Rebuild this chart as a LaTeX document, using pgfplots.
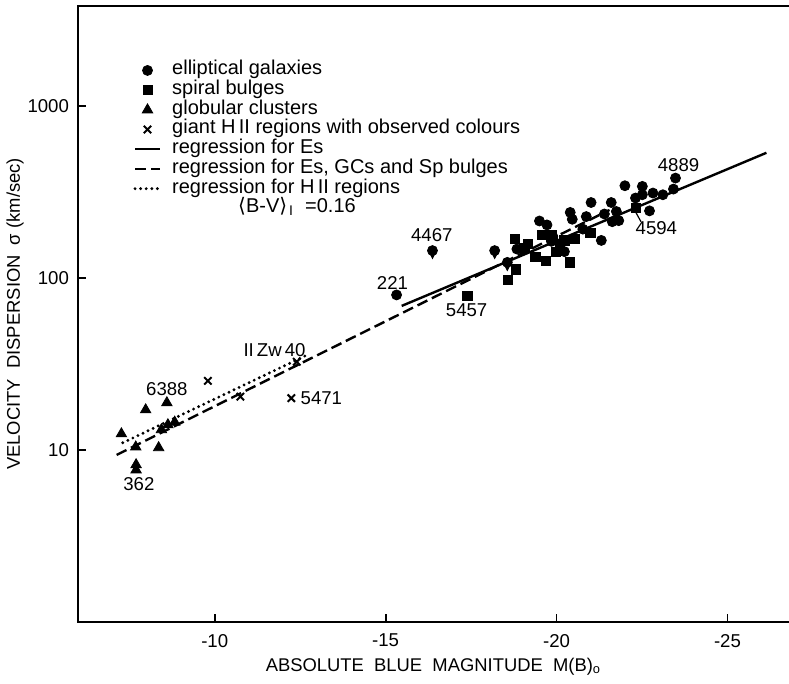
\documentclass[border=0pt]{standalone}
\usepackage{fontspec}
\setmainfont{Liberation Sans}
\newfontfamily\dejavu{DejaVu Sans}
\usepackage{pgfplots}
\pgfplotsset{compat=1.18}
\usetikzlibrary{arrows.meta}
\begin{document}
\begin{tikzpicture}
\begin{axis}[
  scale only axis,
  width=355.5pt, height=308pt,
  x dir=reverse,
  xmin=-26.8, xmax=-6,
  ymode=log, ymin=1, ymax=3800,
  xtick={-10,-15,-20,-25},
  xticklabels={-10,-15,-20,-25},
  ytick={10,100,1000},
  yticklabels={10,100,1000},
  yminorticks=false,
  xtick pos=bottom, ytick pos=left,
  tick align=inside,
  major tick length=4pt,
  tick style={black, line width=0.9pt},
  axis line style={draw=none},
  tick label style={font=\fontsize{9.3}{10}\selectfont},
  xticklabel style={yshift=-2.5pt},
  yticklabel style={xshift=-1pt},
  xlabel={ABSOLUTE\ \ BLUE\ \ MAGNITUDE\ \ M(B)\textsubscript{o}},
  ylabel={VELOCITY\ \ DISPERSION\ \ σ\ (km/sec)},
  every axis x label/.style={at={(axis description cs:0.5,-0.073)}, anchor=center, font=\fontsize{9.2}{10}\selectfont},
  every axis y label/.style={at={(axis description cs:-0.0886,0.5)}, anchor=center, rotate=90, font=\fontsize{9.2}{10}\selectfont},
  legend style={at={(axis description cs:0.0774,0.912)}, anchor=north west, draw=none, fill=none,
    font=\fontsize{10}{10}\selectfont, inner sep=0pt, row sep=0pt,
    nodes={inner sep=0pt, text height=7.1pt, text depth=2.75pt}},
  legend cell align=left,
  legend image code/.code={\draw[mark repeat=2, mark phase=2, #1] plot coordinates {(0pt,0pt) (6.25pt,0pt) (12.5pt,0pt)}; \path (17.8pt,0pt);},
]
% elliptical galaxies
\addplot[only marks, mark=*, mark size=2.5pt, black] coordinates {
(-15.32,79.6) (-18.84,147) (-19.50,214) (-19.72,203) (-20.46,219) (-20.23,142)
(-21.31,165) (-20.77,192) (-23.48,380) (-23.42,328) (-23.11,304) (-22.82,311)
(-22.51,340) (-22.51,304) (-22.31,291) (-22.00,343) (-22.72,245) (-21.60,274)
(-21.75,243) (-21.40,235) (-21.01,274) (-21.63,212) (-21.82,215) (-20.87,227)
(-20.40,240) (-19.89,174) (-19.85,163)
};
\addlegendentry{elliptical galaxies}
% spiral bulges
\addplot[only marks, mark=square*, mark size=2.3pt, black] coordinates {
(-17.39,78.9) (-18.58,97.3) (-18.82,112) (-18.77,168) (-19.16,158) (-19.06,149)
(-19.57,178) (-19.85,178) (-19.89,166) (-20.09,156) (-19.99,142) (-20.23,165)
(-20.53,168) (-20.99,182) (-19.38,132) (-19.70,126) (-20.40,123) (-22.31,254)
};
\addlegendentry{spiral bulges}
% globular clusters
\addplot[only marks, mark=triangle*, mark size=3pt, black] coordinates {
(-7.27,12.4) (-7.98,17.1) (-8.60,18.8) (-7.69,10.4) (-8.36,10.3) (-7.70,8.2)
(-7.70,7.65) (-8.44,13.1) (-8.63,14.0) (-8.83,14.5)
};
\addlegendentry{globular clusters}
% giant HII regions
\addplot[only marks, mark=x, mark size=2.6pt, black, line width=1pt] coordinates {
(-9.80,25.2) (-10.75,20.4) (-12.24,20.0) (-12.40,32.5)
};
\addlegendentry{giant H\,II regions with observed colours}
\addplot[black, line width=1.2pt] coordinates {(-15.47,68.7) (-26.14,533)};
\addlegendentry{regression for Es}
\addplot[black, line width=1.2pt, dash pattern=on 5.5pt off 2.5pt] coordinates {(-7.13,9.35) (-21.55,248)};
\addlegendentry{regression for Es, GCs and Sp bulges}
\addplot[black, line width=1.6pt, line cap=round, dash pattern=on 0pt off 2.8pt] coordinates {(-7.31,11.0) (-12.66,35.3)};
\addlegendentry{regression for H\,II regions}
\addlegendimage{empty legend}
\addlegendentry{\hspace{33pt}{\dejavu ⟨}B-V{\dejavu ⟩}\kern1pt\textsubscript{I}\ \ =0.16}
% upper limits with arrows
\addplot[only marks, mark=*, mark size=2.5pt, black, forget plot,
  error bars/.cd, y dir=minus, y explicit, error mark=none,
  error bar style={line width=0.8pt, -{Stealth[length=3pt,width=3pt]}}]
  coordinates {(-16.37,144) -= (0,16) (-18.19,144) -= (0,16) (-18.56,123) -= (0,14)};
% annotations
\node[font=\fontsize{9.3}{10}\selectfont] at (axis cs:-15.20,93.5) {221};
\node[font=\fontsize{9.3}{10}\selectfont] at (axis cs:-16.35,178) {4467};
\node[font=\fontsize{9.3}{10}\selectfont] at (axis cs:-17.37,65) {5457};
\node[font=\fontsize{9.3}{10}\selectfont] at (axis cs:-23.57,454) {4889};
\node[font=\fontsize{9.3}{10}\selectfont] at (axis cs:-22.92,195) {4594};
\node[font=\fontsize{9.3}{10}\selectfont] at (axis cs:-8.60,22.7) {6388};
\node[font=\fontsize{9.3}{10}\selectfont] at (axis cs:-7.78,6.34) {362};
\node[font=\fontsize{9.3}{10}\selectfont] at (axis cs:-11.75,38.1) {II\,Zw\,40};
\node[font=\fontsize{9.3}{10}\selectfont] at (axis cs:-13.12,20) {5471};
\draw[line width=0.6pt] (axis cs:-22.31,242) -- (axis cs:-22.47,212);
\end{axis}
\draw[line width=1pt] (current axis.south east) -- (current axis.south west) -- (current axis.north west) -- (current axis.north east);
\pgfresetboundingbox
\path ([shift={(-39pt,-30.5pt)}]current axis.south west) rectangle ([shift={(0pt,3pt)}]current axis.north east);
\end{tikzpicture}
\end{document}
